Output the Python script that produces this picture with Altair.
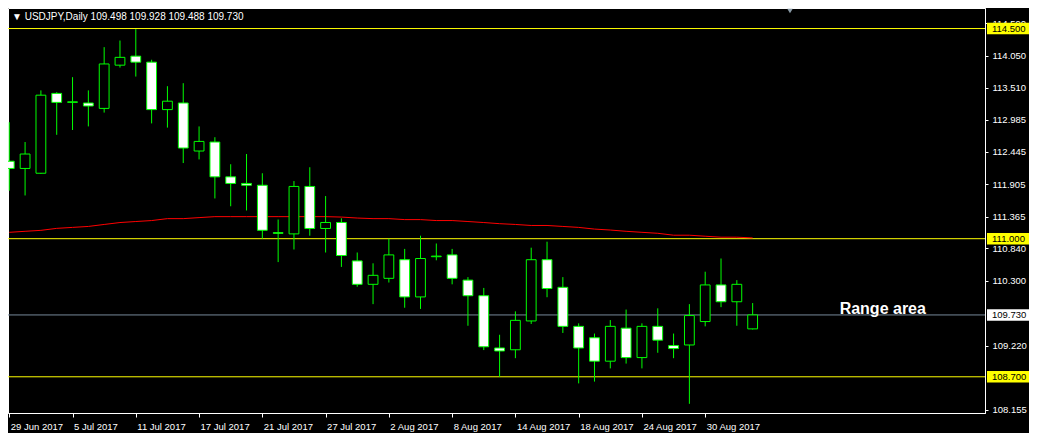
import altair as alt
import pandas as pd

# ---------------- data ----------------
bar_dates = [
    "29 Jun 2017", "30 Jun 2017", "3 Jul 2017", "4 Jul 2017", "5 Jul 2017", "6 Jul 2017",
    "7 Jul 2017", "10 Jul 2017", "11 Jul 2017", "12 Jul 2017", "13 Jul 2017", "14 Jul 2017",
    "17 Jul 2017", "18 Jul 2017", "19 Jul 2017", "20 Jul 2017", "21 Jul 2017", "24 Jul 2017",
    "25 Jul 2017", "26 Jul 2017", "27 Jul 2017", "28 Jul 2017", "31 Jul 2017", "1 Aug 2017",
    "2 Aug 2017", "3 Aug 2017", "4 Aug 2017", "7 Aug 2017", "8 Aug 2017", "9 Aug 2017",
    "10 Aug 2017", "11 Aug 2017", "14 Aug 2017", "15 Aug 2017", "16 Aug 2017", "17 Aug 2017",
    "18 Aug 2017", "21 Aug 2017", "22 Aug 2017", "23 Aug 2017", "24 Aug 2017", "25 Aug 2017",
    "28 Aug 2017", "29 Aug 2017", "30 Aug 2017", "31 Aug 2017", "1 Sep 2017", "4 Sep 2017",
]
opens = [112.29, 112.17, 112.09, 113.42, 113.27, 113.26, 113.17, 113.89, 114.04, 113.94,
         113.15, 113.26, 112.46, 112.61, 112.03, 111.92, 111.89, 111.10, 111.08, 111.87,
         111.17, 111.27, 110.63, 110.24, 110.34, 110.65, 110.03, 110.70, 110.73, 110.31,
         110.05, 109.18, 109.15, 109.63, 110.65, 110.19, 109.54, 109.35, 108.96, 109.51,
         109.02, 109.54, 109.22, 109.23, 109.62, 110.23, 109.95, 109.498]
highs = [112.94, 112.61, 113.47, 113.44, 113.69, 113.47, 114.19, 114.30, 114.49, 113.98,
         113.54, 113.59, 112.87, 112.69, 112.24, 112.41, 112.09, 111.32, 111.96, 112.19,
         111.71, 111.34, 110.77, 110.59, 111.00, 110.83, 111.05, 110.92, 110.83, 110.36,
         110.18, 109.40, 109.79, 110.85, 110.95, 110.36, 109.59, 109.42, 109.645, 109.82,
         109.59, 109.84, 109.42, 109.91, 110.45, 110.67, 110.31, 109.928]
lows = [111.80, 111.72, 112.08, 112.73, 112.81, 112.87, 113.10, 113.85, 113.70, 112.92,
        112.85, 112.26, 112.32, 111.67, 111.54, 111.47, 111.00, 110.61, 110.82, 111.05,
        110.77, 110.53, 110.20, 109.91, 110.27, 109.85, 109.83, 110.64, 110.24, 109.55,
        109.145, 108.70, 109.01, 109.58, 110.025, 109.43, 108.59, 108.62, 108.84, 108.92,
        108.84, 109.10, 109.01, 108.25, 109.54, 109.86, 109.55, 109.488]
closes = [112.17, 112.41, 113.39, 113.27, 113.28, 113.21, 113.91, 114.02, 113.94, 113.15,
          113.29, 112.51, 112.62, 112.03, 111.92, 111.89, 111.14, 111.09, 111.87, 111.17,
          111.27, 110.72, 110.24, 110.39, 110.73, 110.03, 110.67, 110.71, 110.34, 110.05,
          109.20, 109.13, 109.64, 110.65, 110.17, 109.54, 109.18, 108.96, 109.54, 109.02,
          109.54, 109.31, 109.17, 109.72, 110.23, 109.95, 110.24, 109.730]
ma_values = [111.106, 111.123, 111.139, 111.172, 111.188, 111.204, 111.237, 111.269, 111.286, 111.302,
             111.334, 111.334, 111.351, 111.367, 111.367, 111.367, 111.367, 111.367, 111.367, 111.367,
             111.367, 111.360, 111.344, 111.334, 111.334, 111.318, 111.318, 111.302, 111.302, 111.286,
             111.269, 111.250, 111.237, 111.220, 111.220, 111.204, 111.188, 111.160, 111.144, 111.123,
             111.106, 111.090, 111.058, 111.058, 111.041, 111.025, 111.025, 111.013]

level_prices = [114.500, 111.000, 108.700]
bid_price = 109.730
axis_prices = [114.590, 114.050, 113.510, 112.985, 112.445, 111.905, 111.365,
               110.840, 110.300, 109.220, 108.155]
date_tick_bars = list(range(0, 45, 4))
header_text = "\u25BC USDJPY,Daily  109.498 109.928 109.488 109.730"
note_text = "Range area"
note_bar = 52.5
note_price = 109.745

# ---------------- layout / style ----------------
W, H = 977, 405
GREEN = "#00FF00"
YELLOW = "#FFFF00"
AX_FONT = "Liberation Sans, Arial"
AX_SIZE = 9.5

bars = pd.DataFrame({
    "idx": list(range(len(opens))),
    "date": bar_dates,
    "open": opens, "high": highs, "low": lows, "close": closes, "ma": ma_values,
})

x_scale = alt.Scale(domain=[-0.08, 61.69], nice=False, zero=False)
y_scale = alt.Scale(domain=[108.097, 114.842], nice=False, zero=False)

label_array = "[" + ",".join("'" + d + "'" for d in bar_dates) + "]"
X_AXIS = alt.Axis(values=date_tick_bars, labelExpr=label_array + "[round(datum.value)]",
                  title=None, grid=False, labelAlign="left", labelBaseline="top",
                  labelColor="white", labelFont=AX_FONT, labelFontSize=AX_SIZE, labelPadding=4,
                  labelOffset=1, labelOverlap=False, labelFlush=False, labelBound=False,
                  tickColor="white", tickSize=4, domainColor="white", domainWidth=1)
Y_AXIS = alt.Axis(orient="right", values=axis_prices, format=".3f", title=None, grid=False,
                  labelColor="white", labelFont=AX_FONT, labelFontSize=AX_SIZE, labelPadding=4,
                  labelOverlap=False, labelFlush=False, labelBound=False,
                  tickColor="white", tickSize=3, domainColor="white", domainWidth=1)


def X(field):
    return alt.X(field, type="quantitative", scale=x_scale, axis=X_AXIS)


def Y(field):
    return alt.Y(field, type="quantitative", scale=y_scale, axis=Y_AXIS)


base = alt.Chart(bars)

wicks = base.mark_rule(color=GREEN, strokeWidth=1, clip=True).encode(
    x=X("idx"), y=Y("low"), y2="high")

bodies = base.transform_calculate(
    x0="datum.idx - 0.31", x1="datum.idx + 0.31"
).mark_rect(stroke=GREEN, strokeWidth=1, clip=True).encode(
    x=X("x0"), x2="x1", y=Y("open"), y2="close",
    fill=alt.condition("datum.close < datum.open", alt.value("white"), alt.value("black")))

ma_line = base.mark_line(color="#FF0000", strokeWidth=1, clip=True).encode(
    x=X("idx"), y=Y("ma"))

levels_df = pd.DataFrame({"price": level_prices})
levels = alt.Chart(levels_df).mark_rule(color=YELLOW, strokeWidth=1).encode(y=Y("price"))

bid_df = pd.DataFrame({"price": [bid_price]})
bid_line = alt.Chart(bid_df).mark_rule(color="#778899", strokeWidth=1).encode(y=Y("price"))

# axis price boxes
box_df = pd.DataFrame({
    "price": level_prices + [bid_price],
    "kind": ["level"] * len(level_prices) + ["bid"],
}).assign(label=lambda d: d["price"].map(lambda v: f"{v:.3f}"))
box_rects = alt.Chart(box_df).transform_calculate(
    top="datum.price + 0.095", bot="datum.price - 0.095"
).mark_rect().encode(
    x=alt.value(W + 2), x2=alt.value(W + 44), y=Y("top"), y2="bot",
    fill=alt.condition("datum.kind == 'bid'", alt.value("white"), alt.value(YELLOW)))
box_texts = alt.Chart(box_df).mark_text(
    align="left", baseline="middle", color="black", font=AX_FONT, fontSize=AX_SIZE
).encode(x=alt.value(W + 7), y=Y("price"), text="label:N")

note_df = pd.DataFrame({"bar": [note_bar], "price": [note_price], "t": [note_text]})
note = alt.Chart(note_df).mark_text(
    align="left", baseline="alphabetic", color="white", font="Liberation Sans",
    fontSize=16, fontWeight="bold"
).encode(x=X("bar"), y=Y("price"), text="t:N")

head_df = pd.DataFrame({"t": [header_text]})
header = alt.Chart(head_df).mark_text(
    align="left", baseline="middle", color="white", font="Liberation Sans", fontSize=10
).encode(x=alt.value(4), y=alt.value(9), text="t:N")

shift_df = pd.DataFrame({"s": [1]})
shift_mark = alt.Chart(shift_df).mark_point(
    shape="triangle-down", filled=True, color="#8C9CA8", size=30, opacity=1
).encode(x=alt.value(782), y=alt.value(3))

chart = alt.layer(
    levels, bid_line, ma_line, wicks, bodies, box_rects, box_texts, note, header, shift_mark
).properties(
    width=W, height=H,
    padding={"left": 0, "top": 0, "right": 44, "bottom": 20},
    autosize=alt.AutoSizeParams(type="none"),
).configure(background="black").configure_view(stroke="white", strokeWidth=1)

chart.save("out.html", embed_options={"renderer": "svg", "actions": False})
